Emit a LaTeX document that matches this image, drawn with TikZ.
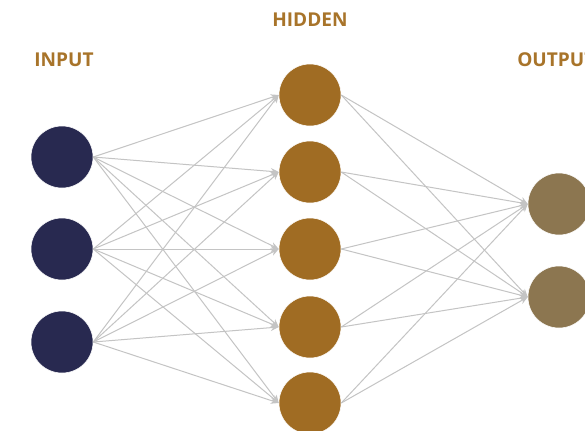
\documentclass[tikz,border=0pt]{standalone}
\usepackage{fontspec}
\setmainfont{Open Sans}
\usetikzlibrary{arrows.meta}
\definecolor{inC}{HTML}{282950}
\definecolor{hidC}{HTML}{A06C23}
\definecolor{outC}{HTML}{8C7650}
\definecolor{txtC}{HTML}{A8742A}
\definecolor{lnC}{HTML}{C4C4C4}
\tikzset{
  neuron/.style={circle, minimum size=46.5pt, inner sep=0pt, draw=white, line width=0.4pt},
  lbl/.style={font=\bfseries\fontsize{14.3}{17}\selectfont, text=txtC, inner sep=0pt},
  conn/.style={draw=lnC, line width=0.75pt, -{Stealth[length=6pt,width=5pt]}}
}
\begin{document}
\begin{tikzpicture}[x=0.75pt,y=-0.75pt]
\useasboundingbox (0,0) rectangle (585,430);
\fill[white] (0,0) rectangle (585,430);
\node[lbl] (lin) at (64,60) {INPUT};
\node[lbl] (lhid) at (310,20) {HIDDEN};
\node[lbl, anchor=west] (lout) at (517,60) {OUTPUT};
\foreach \i/\y in {1/157,2/249,3/342}
  \node[neuron, fill=inC] (i\i) at (62,\y) {};
\foreach \i/\y in {1/95,2/172,3/249,4/327,5/403}
  \node[neuron, fill=hidC] (h\i) at (310,\y) {};
\foreach \i/\y in {1/204,2/297}
  \node[neuron, fill=outC] (o\i) at (559,\y) {};
\foreach \a in {1,2,3}
  \foreach \b in {1,...,5}
    \draw[conn] (i\a.east) -- (h\b.west);
\foreach \a in {1,...,5}
  \foreach \b in {1,2}
    \draw[conn] (h\a.east) -- (o\b.west);
\end{tikzpicture}
\end{document}
